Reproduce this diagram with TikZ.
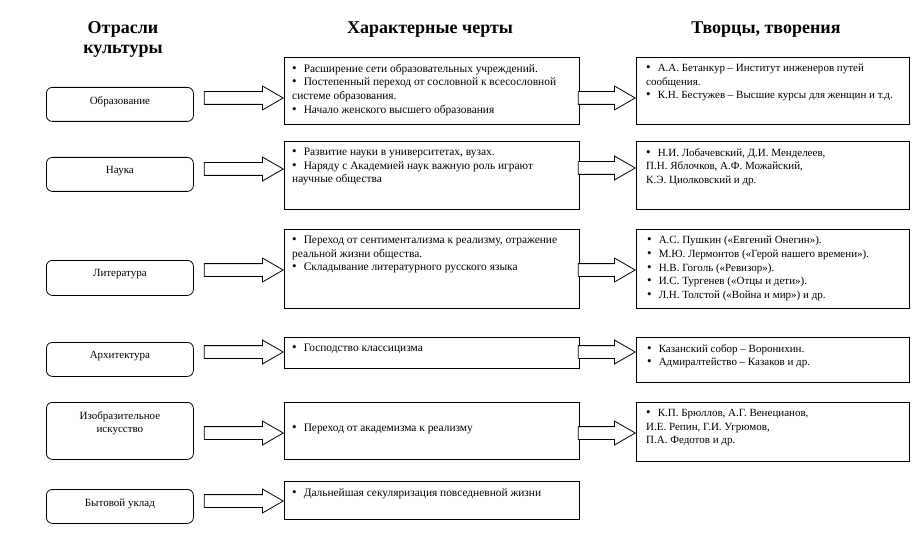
\documentclass[tikz,border=0pt]{standalone}
\usepackage{fontspec}
\setmainfont{Liberation Serif}
\usetikzlibrary{shapes.arrows, positioning, calc}

\newcommand{\bul}{{\fontsize{13}{13}\selectfont\textbullet}\hspace{7pt}}

\tikzset{
  branch/.style={draw, rounded corners=6pt, line width=0.8pt, minimum width=147pt, anchor=north west},
  branchtext/.style={font=\fontsize{11}{13}\selectfont, align=center, anchor=north},
  feature/.style={draw, line width=0.8pt, minimum width=295pt, anchor=north west},
  creator/.style={draw, line width=0.8pt, minimum width=273pt, anchor=north west},
  itemtext/.style={font=\fontsize{11}{13.6}\selectfont, align=left, anchor=north west, inner xsep=10pt, inner ysep=7pt},
  featuretext/.style={itemtext, font=\fontsize{11.4}{13.6}\selectfont, inner xsep=8pt},
  hollow/.style={single arrow, draw, fill=white, line width=0.8pt, inner sep=6pt,
    single arrow head extend=5.5pt, single arrow tip angle=60, anchor=tip},
  heading/.style={font=\fontsize{18}{20}\selectfont\bfseries, align=center}
}

\begin{document}
\begin{tikzpicture}[x=1pt, y=-1pt]
  \useasboundingbox (0,0) rectangle (917,545);

  % column headings
  \node[heading] (h1) at (123,39) {Отрасли\\культуры};
  \node[heading] (h2) at (430,30) {Характерные черты};
  \node[heading] (h3) at (766,30) {Творцы, творения};

  % branches of culture
  \node[branch, minimum height=34pt] (obr) at (46,87) {};
  \node[branch, minimum height=34pt] (nauka) at (46,157) {};
  \node[branch, minimum height=35pt] (lit) at (46,260) {};
  \node[branch, minimum height=34pt] (arch) at (46,342) {};
  \node[branch, minimum height=57pt] (izo) at (46,402) {};
  \node[branch, minimum height=34pt] (byt) at (46,489) {};
  \node[branchtext] at ([yshift=-6pt]obr.north) {Образование};
  \node[branchtext] at ([yshift=-6pt]nauka.north) {Наука};
  \node[branchtext] at ([yshift=-6pt]lit.north) {Литература};
  \node[branchtext] at ([yshift=-6pt]arch.north) {Архитектура};
  \node[branchtext] at ([yshift=-6pt]izo.north) {Изобразительное\\искусство};
  \node[branchtext] at ([yshift=-6pt]byt.north) {Бытовой уклад};

  % features
  \node[feature, minimum height=67pt] (f1) at (284,57) {};
  \node[feature, minimum height=68pt] (f2) at (284,141) {};
  \node[feature, minimum height=79pt] (f3) at (284,229) {};
  \node[feature, minimum height=31pt] (f4) at (284,337) {};
  \node[feature, minimum height=57pt] (f5) at (284,402) {};
  \node[feature, minimum height=38pt] (f6) at (284,481) {};
  \node[featuretext] at (f1.north west) {\bul Расширение сети образовательных учреждений.\\
    \bul Постепенный переход от сословной к всесословной\\системе образования.\\
    \bul Начало женского высшего образования};
  \node[featuretext] at (f2.north west) {\bul Развитие науки в университетах, вузах.\\
    \bul Наряду с Академией наук важную роль играют\\научные общества};
  \node[featuretext] at (f3.north west) {\bul Переход от сентиментализма к реализму, отражение\\реальной жизни общества.\\
    \bul Складывание литературного русского языка};
  \node[featuretext] at (f4.north west) {\bul Господство классицизма};
  \node[featuretext, anchor=west] at ([yshift=2pt]f5.west) {\bul Переход от академизма к реализму};
  \node[featuretext] at (f6.north west) {\bul Дальнейшая секуляризация повседневной жизни};

  % creators and works
  \node[creator, minimum height=67pt] (c1) at (636,57) {};
  \node[creator, minimum height=68pt] (c2) at (636,141) {};
  \node[creator, minimum height=79pt] (c3) at (636,229) {};
  \node[creator, minimum height=45pt] (c4) at (636,337) {};
  \node[creator, minimum height=59pt] (c5) at (636,402) {};
  \node[itemtext] at (c1.north west) {\bul А.А. Бетанкур -- Институт инженеров путей\\сообщения.\\
    \bul К.Н. Бестужев -- Высшие курсы для женщин и т.д.};
  \node[itemtext] at (c2.north west) {\bul Н.И. Лобачевский, Д.И. Менделеев,\\П.Н. Яблочков, А.Ф. Можайский,\\К.Э. Циолковский и др.};
  \node[itemtext, inner xsep=11pt] at (c3.north west) {\bul А.С. Пушкин («Евгений Онегин»).\\
    \bul М.Ю. Лермонтов («Герой нашего времени»).\\
    \bul Н.В. Гоголь («Ревизор»).\\
    \bul И.С. Тургенев («Отцы и дети»).\\
    \bul Л.Н. Толстой («Война и мир») и др.};
  \node[itemtext, inner xsep=11pt] at (c4.north west) {\bul Казанский собор -- Воронихин.\\
    \bul Адмиралтейство -- Казаков и др.};
  \node[itemtext] at (c5.north west) {\bul К.П. Брюллов, А.Г. Венецианов,\\И.Е. Репин, Г.И. Угрюмов,\\П.А. Федотов и др.};

  % arrows branch -> features
  \node[hollow, minimum height=79pt] (a1) at (f1.west |- 0,98) {};
  \node[hollow, minimum height=79pt] (a2) at (f2.west |- 0,169) {};
  \node[hollow, minimum height=79pt] (a3) at (f3.west |- 0,270) {};
  \node[hollow, minimum height=79pt] (a4) at (f4.west |- 0,352) {};
  \node[hollow, minimum height=79pt] (a5) at (f5.west |- 0,433) {};
  \node[hollow, minimum height=79pt] (a6) at (f6.west |- 0,501) {};

  % arrows features -> creators
  \node[hollow, minimum height=57pt] (b1) at (c1.west |- 0,98) {};
  \node[hollow, minimum height=57pt] (b2) at (c2.west |- 0,168) {};
  \node[hollow, minimum height=57pt] (b3) at (c3.west |- 0,270) {};
  \node[hollow, minimum height=57pt] (b4) at (c4.west |- 0,352) {};
  \node[hollow, minimum height=57pt] (b5) at (c5.west |- 0,433) {};
\end{tikzpicture}
\end{document}
